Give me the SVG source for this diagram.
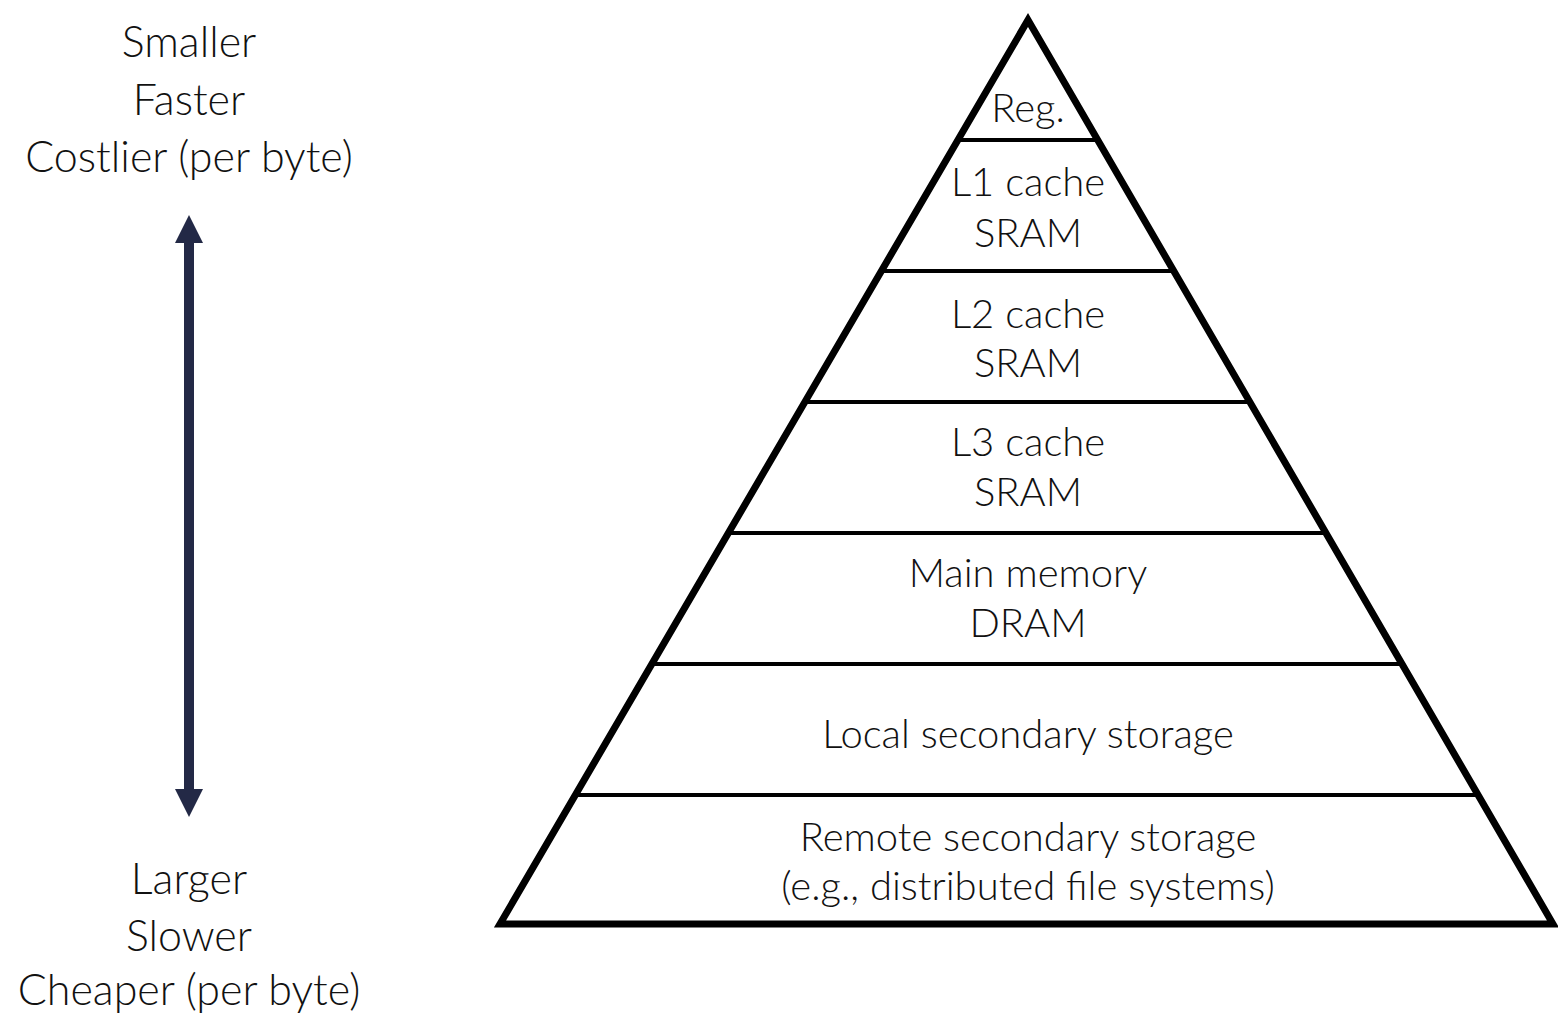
<svg xmlns="http://www.w3.org/2000/svg" width="1558" height="1016" viewBox="0 0 1558 1016">
  <style>
    .lbl { font-family: "Lato", "Open Sans", "DejaVu Sans", sans-serif; font-weight: 300; font-size: 40px; fill: #111111; text-anchor: middle; }
    .side { font-size: 43px; }
    .edge { fill: none; stroke: #000000; stroke-width: 7; stroke-linejoin: miter; stroke-miterlimit: 10; }
    .tier { stroke: #000000; stroke-width: 4; }
  </style>
  <defs>
    <marker id="head" viewBox="0 0 10 10" refX="5" refY="5" markerWidth="2.8" markerHeight="2.8" orient="auto-start-reverse" markerUnits="strokeWidth">
      <path d="M0,0 L10,5 L0,10 z" fill="#232946"/>
    </marker>
  </defs>

  <rect width="1558" height="1016" fill="#ffffff"/>

  <!-- scale labels on the left -->
  <g id="top-label">
    <text class="lbl side" x="189" y="57">Smaller</text>
    <text class="lbl side" x="189" y="115">Faster</text>
    <text class="lbl side" x="189" y="172">Costlier (per byte)</text>
  </g>
  <g id="bottom-label">
    <text class="lbl side" x="189" y="894">Larger</text>
    <text class="lbl side" x="189" y="951">Slower</text>
    <text class="lbl side" x="189" y="1005">Cheaper (per byte)</text>
  </g>

  <!-- connectors -->
  <g id="connectors">
    <line x1="189" y1="229" x2="189" y2="803" stroke="#232946" stroke-width="10" marker-start="url(#head)" marker-end="url(#head)"/>
  </g>

  <!-- pyramid outline and tier dividers -->
  <g id="pyramid">
    <line class="tier" x1="958" y1="140" x2="1098" y2="140"/>
    <line class="tier" x1="882" y1="271" x2="1174" y2="271"/>
    <line class="tier" x1="805" y1="402" x2="1250" y2="402"/>
    <line class="tier" x1="729" y1="533" x2="1326" y2="533"/>
    <line class="tier" x1="652" y1="664" x2="1402" y2="664"/>
    <line class="tier" x1="576" y1="795" x2="1478" y2="795"/>
    <path class="edge" d="M1028,20 L1553,924 L500,924 Z"/>
  </g>

  <!-- tiers -->
  <g id="tier-reg">
    <text class="lbl" x="1028" y="122">Reg.</text>
  </g>
  <g id="tier-l1">
    <text class="lbl" x="1028" y="196">L1 cache</text>
    <text class="lbl" x="1028" y="247">SRAM</text>
  </g>
  <g id="tier-l2">
    <text class="lbl" x="1028" y="328">L2 cache</text>
    <text class="lbl" x="1028" y="377">SRAM</text>
  </g>
  <g id="tier-l3">
    <text class="lbl" x="1028" y="456">L3 cache</text>
    <text class="lbl" x="1028" y="506">SRAM</text>
  </g>
  <g id="tier-main">
    <text class="lbl" x="1028" y="587">Main memory</text>
    <text class="lbl" x="1028" y="637">DRAM</text>
  </g>
  <g id="tier-local">
    <text class="lbl" x="1028" y="748">Local secondary storage</text>
  </g>
  <g id="tier-remote">
    <text class="lbl" x="1028" y="851">Remote secondary storage</text>
    <text class="lbl" x="1028" y="900">(e.g., distributed file systems)</text>
  </g>
</svg>
